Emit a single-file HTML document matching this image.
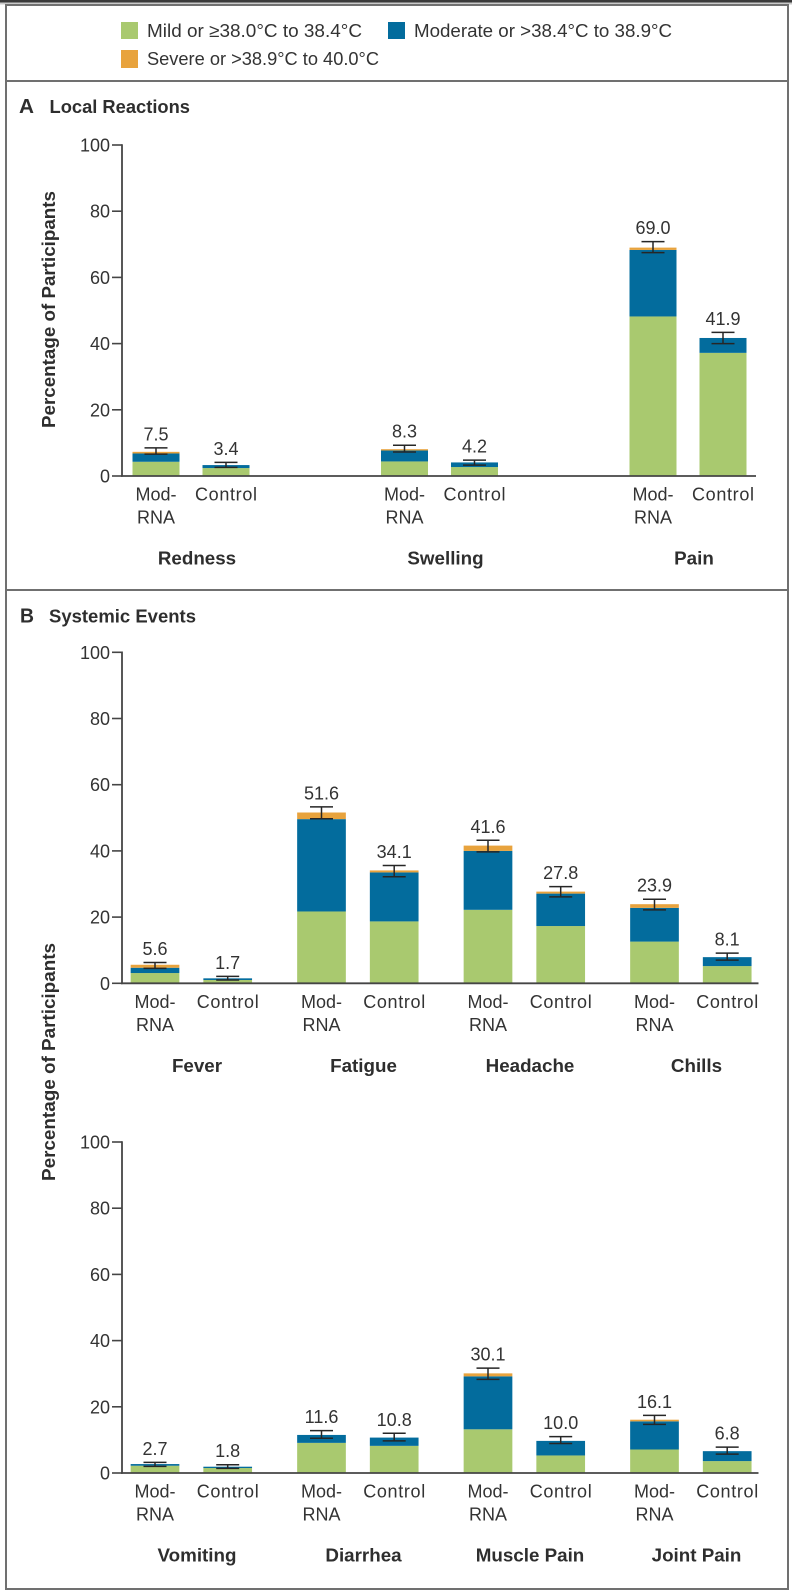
<!DOCTYPE html>
<html lang="en">
<head>
<meta charset="utf-8">
<title>Local Reactions and Systemic Events</title>
<style>
html,body{margin:0;padding:0;background:#fff;width:792px;height:1590px;overflow:hidden}
svg{display:block}
text{font-family:"Liberation Sans",sans-serif;fill:#333}
.b{font-weight:bold;fill:#2e2e2e}
</style>
</head>
<body>
<svg id="chart" xmlns="http://www.w3.org/2000/svg" width="792" height="1590" viewBox="0 0 792 1590">
  <rect x="0" y="0" width="792" height="1590" fill="#fff"/>
  <rect x="0" y="0" width="792" height="2.5" fill="#3a3a3a"/>
  <rect x="0" y="2.5" width="792" height="2" fill="#c9c9c9"/>
  <rect x="6" y="5" width="782" height="1584" fill="none" stroke="#707070" stroke-width="2"/>
  <line x1="6" x2="788" y1="81" y2="81" stroke="#707070" stroke-width="2"/>
  <line x1="6" x2="788" y1="590" y2="590" stroke="#707070" stroke-width="2"/>

  <g>
    <g>
      <rect x="121" y="22" width="17" height="17" fill="#a9c96f"/>
      <text x="147" y="37" font-size="18.5" textLength="215" lengthAdjust="spacingAndGlyphs">Mild or ≥38.0°C to 38.4°C</text>
    </g>
    <g>
      <rect x="388" y="22" width="17" height="17" fill="#036c9d"/>
      <text x="414" y="37" font-size="18.5" textLength="258" lengthAdjust="spacingAndGlyphs">Moderate or &gt;38.4°C to 38.9°C</text>
    </g>
    <g>
      <rect x="121" y="50" width="17" height="18" fill="#e8a33d"/>
      <text x="147" y="65" font-size="18.5" textLength="232" lengthAdjust="spacingAndGlyphs">Severe or &gt;38.9°C to 40.0°C</text>
    </g>
  </g>

  <text class="b" x="19" y="113" font-size="20" textLength="15" lengthAdjust="spacingAndGlyphs">A</text>
  <text class="b" x="49.5" y="113" font-size="18.5" textLength="140.5" lengthAdjust="spacingAndGlyphs">Local Reactions</text>
  <text class="b" x="20" y="622.5" font-size="20" textLength="14" lengthAdjust="spacingAndGlyphs">B</text>
  <text class="b" x="49" y="622.5" font-size="18.5" textLength="147" lengthAdjust="spacingAndGlyphs">Systemic Events</text>

  <text class="b" transform="translate(55,428) rotate(-90)" x="0" y="0" font-size="18.5" textLength="237" lengthAdjust="spacingAndGlyphs">Percentage of Participants</text>
  <text class="b" transform="translate(55,1181) rotate(-90)" x="0" y="0" font-size="18.5" textLength="238" lengthAdjust="spacingAndGlyphs">Percentage of Participants</text>
</svg>

<script>
// ---- Shared data ----
const yTicks = [0, 20, 40, 60, 80, 100];
const arms = ['Mod-RNA', 'Control'];

// ---- Panel A: local reactions ----
const localCategories = ['Redness', 'Swelling', 'Pain'];
const localMild = [[4.3, 2.4], [4.4, 2.7], [48.2, 37.2]];
const localModerate = [[2.5, 0.9], [3.3, 1.4], [20.1, 4.5]];
const localSevere = [[0.5, 0.0], [0.4, 0.0], [0.7, 0.0]];
const localErrLow = [[6.6, 2.6], [7.25, 3.3], [67.5, 40.0]];
const localErrHigh = [[8.5, 4.1], [9.3, 4.8], [70.8, 43.4]];
const localLabels = [['7.5', '3.4'], ['8.3', '4.2'], ['69.0', '41.9']];

// ---- Panel B, upper: systemic events ----
const upperCategories = ['Fever', 'Fatigue', 'Headache', 'Chills'];
const upperMild = [[3.1, 1.0], [21.7, 18.7], [22.2, 17.3], [12.6, 5.2]];
const upperModerate = [[1.6, 0.5], [27.9, 14.8], [17.8, 9.8], [10.2, 2.7]];
const upperSevere = [[0.9, 0.0], [2.0, 0.6], [1.6, 0.6], [1.1, 0.0]];
const upperErrLow = [[4.5, 1.0], [49.7, 32.2], [39.7, 26.1], [22.2, 7.0]];
const upperErrHigh = [[6.3, 2.1], [53.3, 35.6], [43.2, 29.2], [25.4, 9.1]];
const upperLabels = [['5.6', '1.7'], ['51.6', '34.1'], ['41.6', '27.8'], ['23.9', '8.1']];

// ---- Panel B, lower: systemic events ----
const lowerCategories = ['Vomiting', 'Diarrhea', 'Muscle Pain', 'Joint Pain'];
const lowerMild = [[2.2, 1.5], [9.1, 8.2], [13.2, 5.3], [7.1, 3.6]];
const lowerModerate = [[0.5, 0.4], [2.4, 2.5], [16.0, 4.4], [8.5, 3.0]];
const lowerSevere = [[0.0, 0.0], [0.0, 0.0], [0.9, 0.0], [0.5, 0.0]];
const lowerErrLow = [[2.0, 1.4], [10.5, 9.7], [28.3, 8.9], [14.7, 5.7]];
const lowerErrHigh = [[3.2, 2.5], [12.8, 12.0], [31.7, 11.0], [17.4, 7.8]];
const lowerLabels = [['2.7', '1.8'], ['11.6', '10.8'], ['30.1', '10.0'], ['16.1', '6.8']];

const SVG_NS = 'http://www.w3.org/2000/svg';
const root = document.getElementById('chart');
const COLORS = { mild: '#a9c96f', moderate: '#036c9d', severe: '#e8a33d' };
const AXIS_COLOR = '#454545';

function make(parent, tag, props, text) {
  const node = document.createElementNS(SVG_NS, tag);
  Object.keys(props).forEach(function (k) { node.setAttribute(k, props[k]); });
  if (text !== undefined) node.textContent = text;
  parent.appendChild(node);
  return node;
}

function slug(s) { return s.toLowerCase().replace(/[^a-z0-9]+/g, '-'); }

function drawChart(cfg) {
  const yScale = function (v) { return cfg.zeroY - v * cfg.pxPerUnit; };
  const xScale = function (g, a) { return cfg.x0 + g * cfg.groupStep + a * cfg.armStep; };

  const chart = make(root, 'g', {});
  
  

  yTicks.forEach(function (t) {
    const tick = make(chart, 'line', { x1: 112, x2: 122, y1: yScale(t), y2: yScale(t), stroke: AXIS_COLOR, 'stroke-width': 1.6 });
    
    
    const lab = make(chart, 'text', { x: 110, y: yScale(t) + 6.5, 'font-size': 18, 'text-anchor': 'end' }, String(t));
    
    
  });

  cfg.categories.forEach(function (cat, g) {
    const key = slug(cat);
    arms.forEach(function (arm, a) {
      const cx = xScale(g, a);
      const armKey = key + '-' + slug(arm);
      const mild = cfg.mild[g][a];
      const moderate = cfg.moderate[g][a];
      const severe = cfg.severe[g][a];
      const stack = [['mild', 0, mild], ['moderate', mild, mild + moderate], ['severe', mild + moderate, mild + moderate + severe]];
      stack.forEach(function (seg) {
        if (seg[2] <= seg[1]) return;
        const bar = make(chart, 'rect', {
          x: cx - cfg.barWidth / 2,
          y: yScale(seg[2]),
          width: cfg.barWidth,
          height: yScale(seg[1]) - yScale(seg[2]),
          fill: COLORS[seg[0]]
        });
        
        
      });

      const hi = yScale(cfg.errHigh[g][a]);
      const lo = yScale(cfg.errLow[g][a]);
      const err = make(chart, 'path', {
        d: 'M' + (cx - 11.5) + ' ' + hi + 'H' + (cx + 11.5) + 'M' + cx + ' ' + hi + 'V' + lo + 'M' + (cx - 11.5) + ' ' + lo + 'H' + (cx + 11.5),
        fill: 'none', stroke: '#262626', 'stroke-width': 1.5
      });
      
      

      const val = make(chart, 'text', { x: cx, y: hi - 7.5, 'font-size': 18, 'text-anchor': 'middle' }, cfg.labels[g][a]);
      
      

      const armBase = cfg.zeroY + 24.5;
      if (a === 0) {
        const l1 = make(chart, 'text', { x: cx, y: armBase, 'font-size': 18, 'text-anchor': 'middle' }, 'Mod-');
        
        
        const l2 = make(chart, 'text', { x: cx, y: armBase + 23, 'font-size': 18, 'text-anchor': 'middle' }, 'RNA');
        
        
      } else {
        const l3 = make(chart, 'text', { x: cx, y: armBase, 'font-size': 18, 'text-anchor': 'middle', textLength: 62, lengthAdjust: 'spacing' }, arm);
        
        
      }
    });

    const groupLabel = make(chart, 'text', {
      x: xScale(g, 0) + cfg.groupLabelOffset,
      y: cfg.zeroY + 88.5,
      'font-size': 18.8,
      'text-anchor': 'middle',
      'class': 'b'
    }, cat);
    
    
  });

  const yAxis = make(chart, 'line', { x1: 122, x2: 122, y1: yScale(100) - 0.8, y2: yScale(0) + 0.8, stroke: AXIS_COLOR, 'stroke-width': 1.8 });
  
  
  const xAxis = make(chart, 'line', { x1: 121, x2: cfg.axisEnd, y1: yScale(0), y2: yScale(0), stroke: AXIS_COLOR, 'stroke-width': 1.8 });
  
  
}

drawChart({
  name: 'local-reactions-chart', zeroY: 476, pxPerUnit: 3.31,
  x0: 156, groupStep: 248.5, armStep: 70, barWidth: 47, groupLabelOffset: 41, axisEnd: 756,
  categories: localCategories, mild: localMild, moderate: localModerate, severe: localSevere,
  errLow: localErrLow, errHigh: localErrHigh, labels: localLabels
});
drawChart({
  name: 'systemic-events-upper-chart', zeroY: 983.3, pxPerUnit: 3.31,
  x0: 155, groupStep: 166.5, armStep: 72.7, barWidth: 48.7, groupLabelOffset: 42, axisEnd: 758.5,
  categories: upperCategories, mild: upperMild, moderate: upperModerate, severe: upperSevere,
  errLow: upperErrLow, errHigh: upperErrHigh, labels: upperLabels
});
drawChart({
  name: 'systemic-events-lower-chart', zeroY: 1473, pxPerUnit: 3.31,
  x0: 155, groupStep: 166.5, armStep: 72.7, barWidth: 48.7, groupLabelOffset: 42, axisEnd: 758.5,
  categories: lowerCategories, mild: lowerMild, moderate: lowerModerate, severe: lowerSevere,
  errLow: lowerErrLow, errHigh: lowerErrHigh, labels: lowerLabels
});
</script>
</body>
</html>
